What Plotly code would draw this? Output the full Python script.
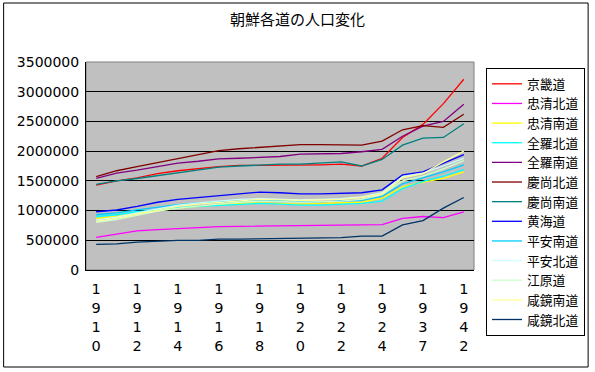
import plotly.graph_objects as go

# ---- data ----
years = ["1910", "1911", "1912", "1913", "1914", "1915", "1916", "1917", "1918", "1919",
         "1920", "1921", "1922", "1923", "1924", "1925", "1937", "1940", "1942"]

gyeonggi   = [1430000, 1500000, 1550000, 1620000, 1670000, 1710000, 1740000, 1760000, 1760000, 1770000,
              1770000, 1770000, 1780000, 1750000, 1880000, 2230000, 2450000, 2800000, 3210000]
chungbuk   = [550000, 600000, 660000, 680000, 700000, 720000, 730000, 735000, 740000, 745000,
              750000, 755000, 760000, 765000, 765000, 870000, 900000, 880000, 980000]
chungnam   = [870000, 900000, 950000, 1000000, 1040000, 1070000, 1100000, 1120000, 1130000, 1120000,
              1110000, 1120000, 1130000, 1140000, 1210000, 1400000, 1480000, 1540000, 1650000]
jeonbuk    = [900000, 930000, 980000, 1020000, 1050000, 1070000, 1090000, 1110000, 1120000, 1110000,
              1090000, 1090000, 1100000, 1120000, 1160000, 1370000, 1490000, 1580000, 1690000]
jeonnam    = [1540000, 1630000, 1680000, 1740000, 1800000, 1830000, 1870000, 1880000, 1900000, 1910000,
              1950000, 1960000, 1960000, 1990000, 2030000, 2250000, 2420000, 2500000, 2790000]
gyeongbuk  = [1570000, 1670000, 1740000, 1810000, 1880000, 1940000, 2010000, 2040000, 2060000, 2090000,
              2110000, 2110000, 2100000, 2100000, 2170000, 2360000, 2430000, 2400000, 2620000]
gyeongnam  = [1440000, 1500000, 1540000, 1590000, 1640000, 1680000, 1730000, 1750000, 1770000, 1780000,
              1780000, 1800000, 1820000, 1750000, 1860000, 2100000, 2220000, 2230000, 2460000]
hwanghae   = [980000, 1010000, 1070000, 1140000, 1190000, 1220000, 1250000, 1280000, 1310000, 1300000,
              1280000, 1280000, 1290000, 1300000, 1350000, 1600000, 1650000, 1800000, 1940000]
pyongnam   = [930000, 960000, 1010000, 1060000, 1100000, 1130000, 1150000, 1170000, 1180000, 1170000,
              1150000, 1150000, 1160000, 1170000, 1240000, 1450000, 1550000, 1650000, 1770000]
pyongbuk   = [840000, 890000, 960000, 1030000, 1090000, 1130000, 1160000, 1190000, 1200000, 1190000,
              1180000, 1190000, 1200000, 1230000, 1300000, 1570000, 1630000, 1750000, 1880000]
gangwon    = [800000, 850000, 920000, 990000, 1040000, 1080000, 1110000, 1140000, 1160000, 1150000,
              1140000, 1150000, 1160000, 1190000, 1270000, 1500000, 1580000, 1700000, 1840000]
hamnam     = [820000, 870000, 940000, 1010000, 1070000, 1110000, 1140000, 1170000, 1190000, 1180000,
              1170000, 1180000, 1190000, 1220000, 1280000, 1550000, 1620000, 1820000, 2000000]
hambuk     = [430000, 440000, 470000, 490000, 500000, 500000, 520000, 520000, 525000, 530000,
              530000, 540000, 545000, 570000, 570000, 760000, 830000, 1040000, 1220000]

series_names = ["京畿道", "忠清北道", "忠清南道", "全羅北道", "全羅南道", "慶尚北道", "慶尚南道",
                "黄海道", "平安南道", "平安北道", "江原道", "咸鏡南道", "咸鏡北道"]
series_values = [gyeonggi, chungbuk, chungnam, jeonbuk, jeonnam, gyeongbuk, gyeongnam,
                 hwanghae, pyongnam, pyongbuk, gangwon, hamnam, hambuk]
series_colors = ["#FF0000", "#FF00FF", "#FFFF00", "#00FFFF", "#800080", "#800000", "#008080",
                 "#0000FF", "#00CCFF", "#CCFFFF", "#CCFFCC", "#FFFF99", "#003366"]

y_ticks = [0, 500000, 1000000, 1500000, 2000000, 2500000, 3000000, 3500000]
x_label_years = years[::2]

CJK = "Noto Sans CJK JP"
DIGITS = "DejaVu Sans"

fig = go.Figure()
for name, vals, col in zip(series_names, series_values, series_colors):
    fig.add_trace(go.Scatter(x=years, y=vals, mode="lines", name=name,
                             line=dict(color=col, width=1.3)))

W, H = 595, 372
L, R, T, B = 86, 118, 62, 102
pw, ph = W - L - R, H - T - B

def px_x(p):
    return (p - L) / pw

def px_y(p):
    return (H - B - p) / ph

fig.update_layout(
    width=W, height=H,
    margin=dict(l=L, r=R, t=T, b=B),
    paper_bgcolor="white",
    plot_bgcolor="#C0C0C0",
    font=dict(family=CJK, color="black", size=14),
    title=dict(text="朝鮮各道の人口変化", x=0.5, xref="container", xanchor="center",
               y=1 - 20 / H, yref="container", yanchor="middle",
               font=dict(family=CJK, size=15, color="black")),
    xaxis=dict(type="category", range=[-0.5, len(years) - 0.5],
               tickvals=x_label_years,
               ticktext=["<br>".join(list(y)) for y in x_label_years],
               ticks="", showgrid=False, showline=True, linecolor="black", linewidth=1,
               tickfont=dict(family=DIGITS, size=14.5, color="black"),
               ticklabelstandoff=6, zeroline=False),
    xaxis2=dict(overlaying="x", anchor="y", range=[-0.5, len(years) - 0.5],
                tickvals=[i - 0.5 for i in range(len(years) + 1)],
                ticks="inside", ticklen=4, tickcolor="black", showticklabels=False,
                showgrid=False, showline=False, zeroline=False, side="bottom"),
    yaxis=dict(range=[0, 3500000], tickvals=y_ticks, ticktext=[str(v) for v in y_ticks],
               showgrid=True, gridcolor="black", gridwidth=1,
               showline=True, linecolor="black", linewidth=1,
               ticks="", ticklabelstandoff=3, zeroline=False,
               tickfont=dict(family=DIGITS, size=14, color="black")),
    legend=dict(x=486 / W, y=1 - 68 / H, xref="container", yref="container",
                xanchor="left", yanchor="top",
                bordercolor="black", borderwidth=1, bgcolor="white",
                font=dict(family="Liberation Sans, " + CJK, size=12.8, color="black"),
                tracegroupgap=0, maxheight=300),
    showlegend=True,
    shapes=[
        dict(type="rect", xref="paper", yref="paper", x0=0, x1=1, y0=0, y1=1,
             line=dict(color="#808080", width=1), layer="below"),
        dict(type="rect", xref="paper", yref="paper",
             x0=px_x(3), x1=px_x(592), y0=px_y(367), y1=px_y(3),
             line=dict(color="black", width=1), fillcolor="rgba(0,0,0,0)", layer="below"),
    ],
)

fig.write_html("out.html", config={"displayModeBar": False},
               post_script="document.body.style.margin='0px';")
